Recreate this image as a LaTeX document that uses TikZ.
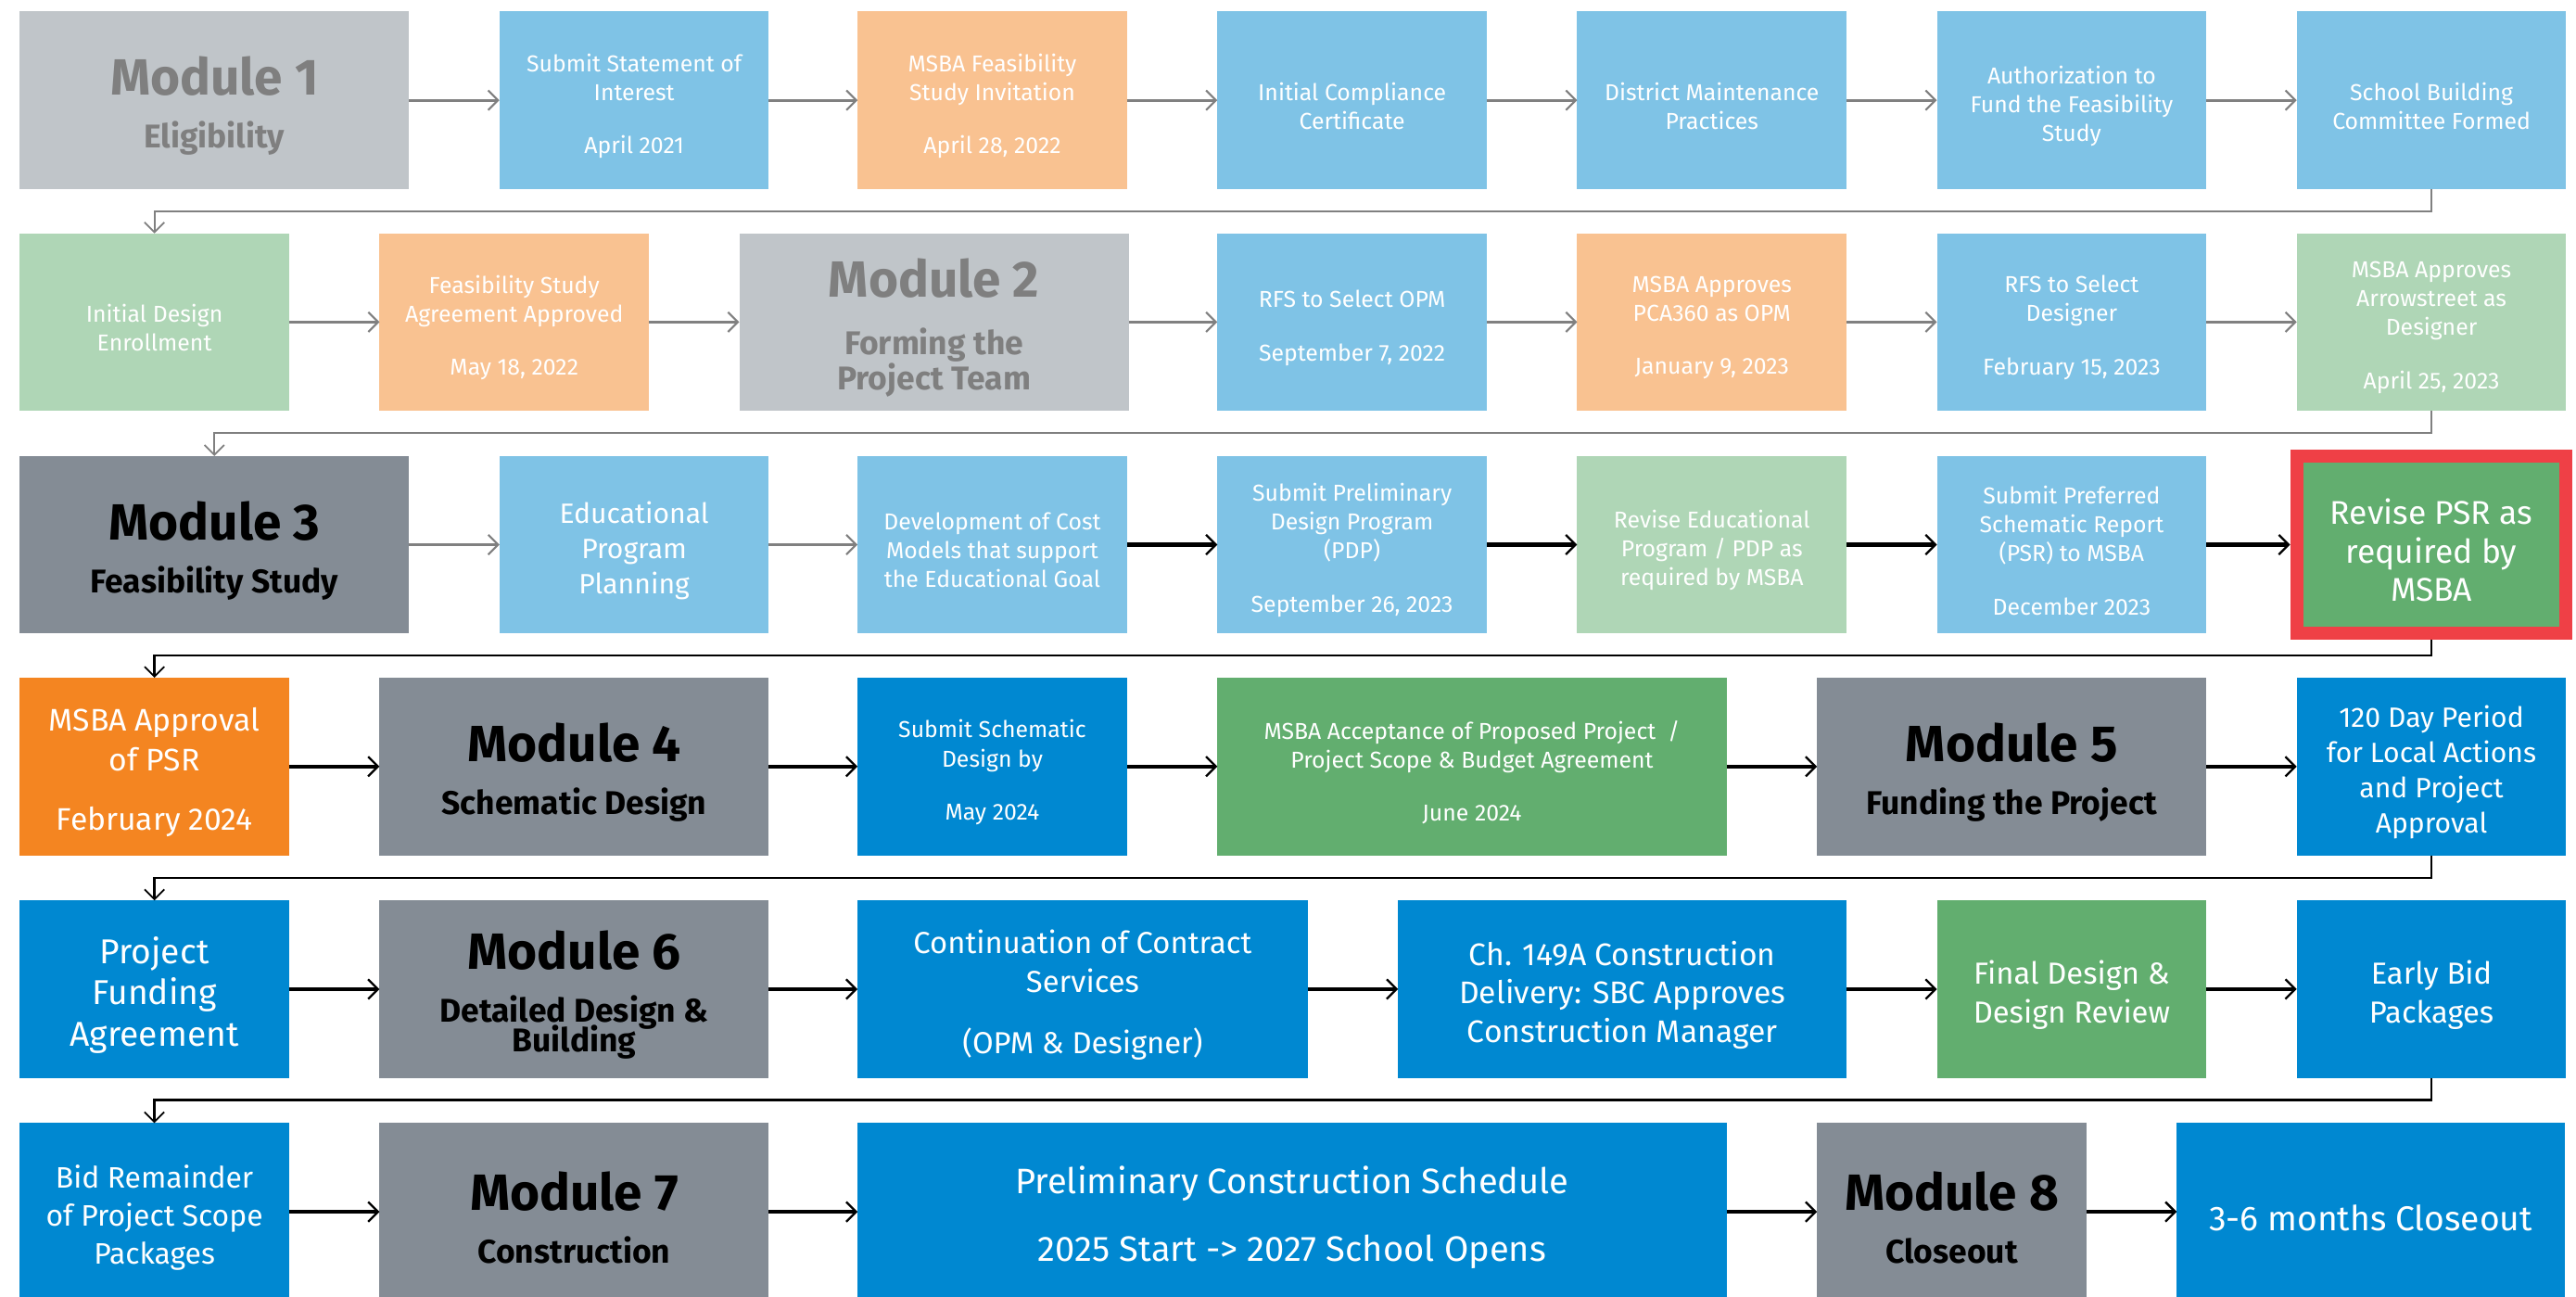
\documentclass[tikz,border=0pt]{standalone}
\usepackage{fontspec}
\setmainfont{Fira Sans}
\usetikzlibrary{arrows.meta}
\definecolor{modlight}{HTML}{C0C5C9}
\definecolor{modtext}{HTML}{7F7F7F}
\definecolor{moddark}{HTML}{848C95}
\definecolor{lblue}{HTML}{7FC3E6}
\definecolor{peach}{HTML}{F9C291}
\definecolor{lgreen}{HTML}{AFD6B6}
\definecolor{dblue}{HTML}{0088D1}
\definecolor{mgreen}{HTML}{62AE6F}
\definecolor{morange}{HTML}{F48521}
\definecolor{mred}{HTML}{EF4046}
\definecolor{arrgray}{HTML}{808080}
\tikzset{
  box/.style={draw=none, inner sep=0pt, outer sep=0pt, minimum height=108pt, minimum width=164pt,
    anchor=north west, align=center, text=white, font=\fontsize{14}{17.5}\selectfont},
  wide/.style={minimum width=237pt},
  modl/.style={box, wide, fill=modlight, text=modtext, font=\fontsize{20}{32}\bfseries},
  modd/.style={box, wide, fill=moddark, text=black, font=\fontsize{20}{32}\bfseries},
  txtlabel/.style={fill=none, draw=none, minimum width=0pt, minimum height=0pt, inner sep=0pt, outer sep=0pt, anchor=center},
  garrow/.style={draw=arrgray, line width=1.8pt, -{Straight Barb[length=6pt,width=12pt,line width=1.2pt]}},
  barrow/.style={draw=black, line width=2.4pt, -{Straight Barb[length=6pt,width=12pt,line width=1.3pt]}},
  gret/.style={draw=arrgray, line width=1.2pt, -{Straight Barb[length=6pt,width=12pt,line width=1pt]}},
  bret/.style={draw=black, line width=1.3pt, -{Straight Barb[length=6pt,width=12pt,line width=1pt]}},
}
\newcommand{\modtitle}[1]{{\fontsize{31}{32}\selectfont #1}}
% #1 options, #2 name, #3 top-left position, #4 text
\newcommand{\bx}[4]{%
  \node[box,#1] (#2) at (#3) {};
  \node[box,#1,txtlabel] (#2t) at ([yshift=-3.5pt]#2.center) {#4};
}
\begin{document}
\begin{tikzpicture}[x=1pt,y=-1pt]
\useasboundingbox[fill=white] (0,0) rectangle (1568,789);
% Row 1
\bx{modl}{m1}{12,7}{\modtitle{Module 1}\\Eligibility}
\bx{fill=lblue}{r1b}{304,7}{Submit Statement of\\Interest\\[15pt]April 2021}
\bx{fill=peach}{r1c}{522,7}{MSBA Feasibility\\Study Invitation\\[15pt]April 28, 2022}
\bx{fill=lblue}{r1d}{741,7}{Initial Compliance\\Certificate}
\bx{fill=lblue}{r1e}{960,7}{District Maintenance\\Practices}
\bx{fill=lblue}{r1f}{1179,7}{Authorization to\\Fund the Feasibility\\Study}
\bx{fill=lblue}{r1g}{1398,7}{School Building\\Committee Formed}
% Row 2
\bx{fill=lgreen}{r2a}{12,142}{Initial Design\\Enrollment}
\bx{fill=peach}{r2b}{231,142}{Feasibility Study\\Agreement Approved\\[15pt]May 18, 2022}
\bx{modl}{m2}{450,142}{\modtitle{Module 2}\\[3pt]Forming the\\[-11pt]Project Team}
\bx{fill=lblue}{r2d}{741,142}{RFS to Select OPM\\[15pt]September 7, 2022}
\bx{fill=peach}{r2e}{960,142}{MSBA Approves\\PCA360 as OPM\\[15pt]January 9, 2023}
\bx{fill=lblue}{r2f}{1179,142}{RFS to Select\\Designer\\[15pt]February 15, 2023}
\bx{fill=lgreen}{r2g}{1398,142}{MSBA Approves\\Arrowstreet as\\Designer\\[15pt]April 25, 2023}
% Row 3
\bx{modd}{m3}{12,277.5}{\modtitle{Module 3}\\Feasibility Study}
\bx{fill=lblue, font=\fontsize{17}{21.5}\selectfont}{r3b}{304,277.5}{Educational\\Program\\Planning}
\bx{fill=lblue}{r3c}{522,277.5}{Development of Cost\\Models that support\\the Educational Goal}
\bx{fill=lblue}{r3d}{741,277.5}{Submit Preliminary\\Design Program\\(PDP)\\[15pt]September 26, 2023}
\bx{fill=lgreen}{r3e}{960,277.5}{Revise Educational\\Program / PDP as\\required by MSBA}
\bx{fill=lblue}{r3f}{1179,277.5}{Submit Preferred\\Schematic Report\\(PSR) to MSBA\\[15pt]December 2023}
\bx{fill=mgreen, draw=mred, line width=8pt, outer sep=4pt, font=\fontsize{20}{23.5}\selectfont}{r3g}{1394,273.5}{Revise PSR as\\required by\\MSBA}
% Row 4
\bx{fill=morange, font=\fontsize{19}{24}\selectfont}{r4a}{12,412.5}{MSBA Approval\\of PSR\\[12pt]February 2024}
\bx{modd}{m4}{231,412.5}{\modtitle{Module 4}\\Schematic Design}
\bx{fill=dblue, font=\fontsize{14}{18}\selectfont}{r4c}{522,412.5}{Submit Schematic\\Design by\\[14pt]May 2024}
\bx{fill=mgreen, minimum width=310pt, font=\fontsize{14}{18}\selectfont}{r4d}{741,412.5}{MSBA Acceptance of Proposed Project\ \ /\\Project Scope \& Budget Agreement\\[14pt]June 2024}
\bx{modd}{m5}{1106,412.5}{\modtitle{Module 5}\\Funding the Project}
\bx{fill=dblue, font=\fontsize{17}{21.3}\selectfont}{r4f}{1398,412.5}{120 Day Period\\for Local Actions\\and Project\\Approval}
% Row 5
\bx{fill=dblue, font=\fontsize{21}{25}\selectfont}{r5a}{12,548}{Project\\Funding\\Agreement}
\bx{modd}{m6}{231,548}{\modtitle{Module 6}\\Detailed Design \&\\[-14pt]Building}
\bx{fill=dblue, minimum width=274pt, font=\fontsize{18.5}{24}\selectfont}{r5c}{522,548}{Continuation of Contract\\Services\\[13pt](OPM \& Designer)}
\bx{fill=dblue, minimum width=273pt, font=\fontsize{19}{23.5}\selectfont}{r5d}{851,548}{Ch. 149A Construction\\Delivery: SBC Approves\\Construction Manager}
\bx{fill=mgreen, font=\fontsize{18.5}{24}\selectfont}{r5e}{1179,548}{Final Design \&\\Design Review}
\bx{fill=dblue, font=\fontsize{18.5}{24}\selectfont}{r5f}{1398,548}{Early Bid\\Packages}
% Row 6
\bx{fill=dblue, font=\fontsize{18}{23}\selectfont}{r6a}{12,683.5}{Bid Remainder\\of Project Scope\\Packages}
\bx{modd}{m7}{231,683.5}{\modtitle{Module 7}\\Construction}
\bx{fill=dblue, minimum width=529pt, font=\fontsize{21.5}{25}\selectfont}{r6c}{522,683.5}{Preliminary Construction Schedule\\[16pt]2025 Start -> 2027 School Opens}
\bx{modd, minimum width=164pt}{m8}{1106,683.5}{\modtitle{Module 8}\\Closeout}
\bx{fill=dblue, minimum width=236pt, font=\fontsize{21}{24}\selectfont}{r6e}{1325,683.5}{3-6 months Closeout}
% Arrows row 1
\draw[garrow] (m1.east) -- (r1b.west);
\draw[garrow] (r1b.east) -- (r1c.west);
\draw[garrow] (r1c.east) -- (r1d.west);
\draw[garrow] (r1d.east) -- (r1e.west);
\draw[garrow] (r1e.east) -- (r1f.west);
\draw[garrow] (r1f.east) -- (r1g.west);
\draw[gret] (r1g.south) -- ++(0,13.5) -| (r2a.north);
% Arrows row 2
\draw[garrow] (r2a.east) -- (r2b.west);
\draw[garrow] (r2b.east) -- (m2.west);
\draw[garrow] (m2.east) -- (r2d.west);
\draw[garrow] (r2d.east) -- (r2e.west);
\draw[garrow] (r2e.east) -- (r2f.west);
\draw[garrow] (r2f.east) -- (r2g.west);
\draw[gret] (r2g.south) -- ++(0,13.5) -| (m3.north);
% Arrows row 3
\draw[garrow] (m3.east) -- (r3b.west);
\draw[garrow] (r3b.east) -- (r3c.west);
\draw[barrow] (r3c.east) -- (r3d.west);
\draw[barrow] (r3d.east) -- (r3e.west);
\draw[barrow] (r3e.east) -- (r3f.west);
\draw[barrow] (r3f.east) -- (r3g.west);
\draw[bret] (r3g.south) -- ++(0,9.5) -| (r4a.north);
% Arrows row 4
\draw[barrow] (r4a.east) -- (m4.west);
\draw[barrow] (m4.east) -- (r4c.west);
\draw[barrow] (r4c.east) -- (r4d.west);
\draw[barrow] (r4d.east) -- (m5.west);
\draw[barrow] (m5.east) -- (r4f.west);
\draw[bret] (r4f.south) -- ++(0,14) -| (r5a.north);
% Arrows row 5
\draw[barrow] (r5a.east) -- (m6.west);
\draw[barrow] (m6.east) -- (r5c.west);
\draw[barrow] (r5c.east) -- (r5d.west);
\draw[barrow] (r5d.east) -- (r5e.west);
\draw[barrow] (r5e.east) -- (r5f.west);
\draw[bret] (r5f.south) -- ++(0,13.5) -| (r6a.north);
% Arrows row 6
\draw[barrow] (r6a.east) -- (m7.west);
\draw[barrow] (m7.east) -- (r6c.west);
\draw[barrow] (r6c.east) -- (m8.west);
\draw[barrow] (m8.east) -- (r6e.west);
\end{tikzpicture}
\end{document}
